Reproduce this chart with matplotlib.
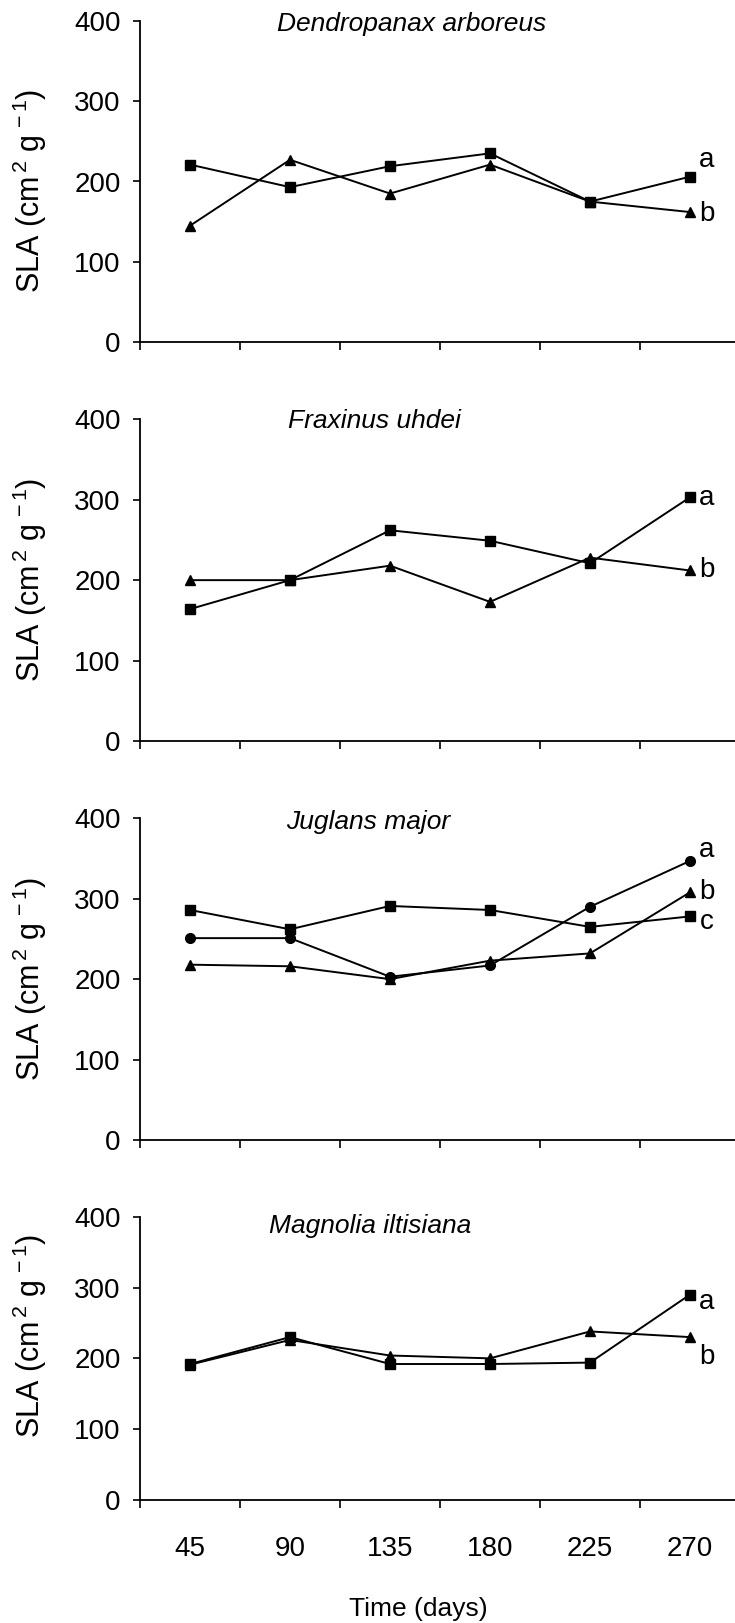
import numpy as np
import matplotlib
matplotlib.use("Agg")
import matplotlib.pyplot as plt
from matplotlib import font_manager

# sampling times (days)
days = [45, 90, 135, 180, 225, 270]

species = ["Dendropanax arboreus", "Fraxinus uhdei", "Juglans major", "Magnolia iltisiana"]

# specific leaf area, cm2 g-1
dendro_square = [221, 193, 219, 235, 175, 206]
dendro_triangle = [145, 227, 185, 221, 175, 162]

fraxinus_square = [164, 200, 262, 249, 221, 303]
fraxinus_triangle = [200, 200, 218, 173, 228, 212]

juglans_square = [286, 262, 291, 286, 265, 278]
juglans_circle = [251, 251, 203, 217, 290, 347]
juglans_triangle = [218, 216, 200, 223, 232, 308]

magnolia_square = [192, 230, 192, 192, 194, 290]
magnolia_triangle = [191, 226, 204, 200, 238, 230]

# significance letters at the last sampling date
dendro_letters = ["a", "b"]
dendro_letter_y = [227, 160]
fraxinus_letters = ["a", "b"]
fraxinus_letter_y = [302, 212]
juglans_letters = ["a", "b", "c"]
juglans_letter_y = [361, 308, 271]
magnolia_letters = ["a", "b"]
magnolia_letter_y = [280, 202]

panels = [
    [(dendro_square, "s"), (dendro_triangle, "^")],
    [(fraxinus_square, "s"), (fraxinus_triangle, "^")],
    [(juglans_square, "s"), (juglans_circle, "o"), (juglans_triangle, "^")],
    [(magnolia_square, "s"), (magnolia_triangle, "^")],
]
letters = [
    (dendro_letters, dendro_letter_y),
    (fraxinus_letters, fraxinus_letter_y),
    (juglans_letters, juglans_letter_y),
    (magnolia_letters, magnolia_letter_y),
]

# fonts: narrow sans for numbers if it is there
names = {f.name for f in font_manager.fontManager.ttflist}
narrow = "Liberation Sans Narrow" if "Liberation Sans Narrow" in names else "Liberation Sans"
plt.rcParams["font.family"] = "Liberation Sans"
plt.rcParams["mathtext.fontset"] = "custom"
plt.rcParams["mathtext.rm"] = "Liberation Sans"
plt.rcParams["mathtext.it"] = "Liberation Sans:italic"

W, H = 735, 1623
fig = plt.figure(figsize=(W / 100, H / 100), dpi=100)

# axes boxes in pixels: (top, bottom) of the 0-400 range
boxes = [(20.7, 342.3), (419.3, 741), (818.3, 1140), (1216.7, 1500)]
ax_left, ax_right = 140, 740
title_x = [2.72, 2.34, 2.28, 2.30]
title_y = [0.99, 0.995, 0.99, 0.968]
label_y = [0.47, 0.5, 0.5, 0.58]

x = np.arange(len(days)) + 0.5

for i, (top, bot) in enumerate(boxes):
    ax = fig.add_axes([ax_left / W, 1 - bot / H, (ax_right - ax_left) / W, (bot - top) / H])
    for vals, mk in panels[i]:
        ms = {"s": 6.8, "^": 7.8, "o": 7.0}[mk]
        ax.plot(x, vals, color="black", lw=1.4, marker=mk, ms=ms, mfc="black", mec="black")

    ax.set_xlim(0, len(days))
    ax.set_ylim(0, 400)
    ax.set_yticks([0, 100, 200, 300, 400])
    ax.set_xticks(np.arange(len(days) + 1))
    ax.set_xticklabels([])
    for sp in ["top", "right"]:
        ax.spines[sp].set_visible(False)
    for sp in ["left", "bottom"]:
        ax.spines[sp].set_linewidth(1.3)
    ax.tick_params(axis="y", direction="out", length=5, width=1.2, pad=9, labelsize=20)
    ax.tick_params(axis="x", which="major", direction="out", length=6, width=1.2)
    for lab in ax.get_yticklabels():
        lab.set_fontfamily(narrow)

    if i == len(boxes) - 1:
        ax.set_xticks(x, minor=True)
        ax.set_xticklabels([str(d) for d in days], minor=True)
        ax.tick_params(axis="x", which="minor", length=0, pad=26, labelsize=20)
        for lab in ax.get_xticklabels(minor=True):
            lab.set_fontfamily(narrow)

    ax.text(title_x[i], title_y[i], species[i], transform=ax.get_xaxis_transform(),
            fontsize=19, style="italic", ha="center", va="center")

    ax.set_ylabel(r"SLA (cm$^{\,2}$ g$^{\,-1}$)", fontsize=22)
    ax.yaxis.set_label_coords(-0.152, label_y[i])

    for let, ly in zip(*letters[i]):
        ax.text(x[-1] + 0.17, ly, let, fontsize=20, family=narrow, ha="center", va="center")

fig.text(418 / W, 1 - 1609 / H, "Time (days)", fontsize=19, ha="center", va="center")

fig.savefig("out.png", dpi=100)
